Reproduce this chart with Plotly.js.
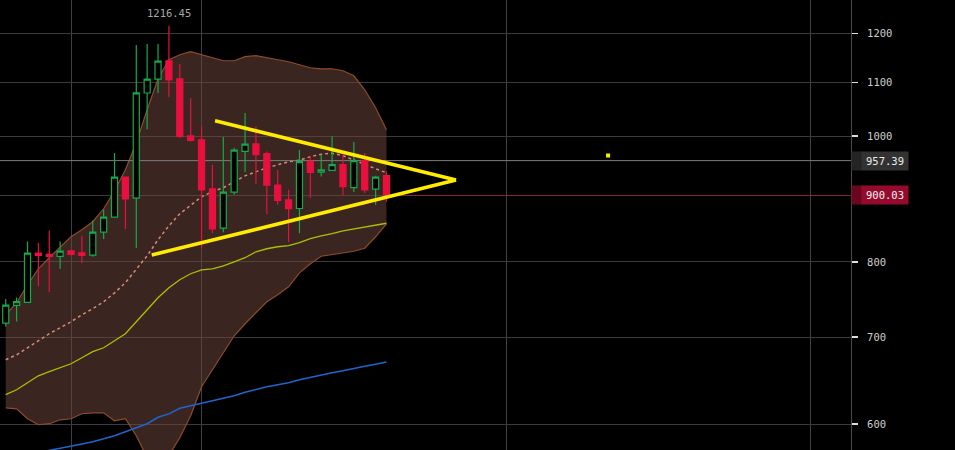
<!DOCTYPE html>
<html><head><meta charset="utf-8">
<script src="https://cdn.plot.ly/plotly-3.0.1.min.js"></script>
<style>html,body{margin:0;padding:0;background:#000;overflow:hidden}#chart{width:955px;height:450px}</style>
</head><body><div id="chart"></div>
<script>
// ---- candle data (index 0..35) ----
const openP  = [717.7,740.5,744.4,812.6,810.6,807.8,815.9,813.0,809.7,843.3,866.1,929.9,895.8,1079.4,1106.4,1143.0,1107.0,1000.5,993.5,910.7,849.4,905.4,973.1,986.4,969.2,916.8,893.1,879.4,956.1,938.1,940.8,950.5,912.6,957.3,910.2,932.1];
const highP  = [749.0,751.0,829.5,827.1,845.8,829.5,816.9,837.9,861.0,877.4,970.4,930.4,1175.5,1177.6,1177.6,1216.45,1136.4,1069.6,1018.4,950.5,998.2,979.5,1041.9,1017.1,973.1,941.5,909.1,976.0,964.6,967.5,999.3,967.5,989.4,970.4,932.1,939.4];
const lowP   = [713.4,719.7,744.0,765.8,758.2,789.8,810.2,798.3,807.3,833.0,865.8,847.9,819.8,1012.3,1079.4,1071.7,996.5,990.5,819.8,841.8,843.3,901.1,938.1,918.4,870.8,885.3,828.6,841.8,895.8,930.6,940.3,900.0,905.4,903.8,885.3,890.4];
const closeP = [741.0,745.4,812.6,809.2,807.8,815.4,810.6,809.2,843.3,866.1,929.9,894.7,1079.7,1106.4,1142.4,1105.0,999.3,992.3,909.1,848.3,905.4,975.5,985.9,967.5,916.8,892.0,879.0,955.6,937.5,942.0,950.5,914.2,957.3,909.1,929.9,900.03];

// ---- indicators ----
const bandUpper = [728.3,744.0,768.2,790.2,805.9,821.7,836.4,846.8,859.0,879.0,907.5,942.0,988.3,1047.8,1107.0,1145.0,1155.3,1161.4,1155.3,1149.1,1143.0,1143.0,1151.2,1153.2,1149.1,1145.0,1141.0,1134.9,1128.8,1126.8,1126.8,1122.8,1112.9,1085.6,1051.5,1011.2];
const bandLower = [617.5,616.4,605.6,599.2,600.3,604.5,605.6,611.0,612.0,612.0,603.4,605.6,587.6,565.1,550.3,568.1,585.5,608.8,641.0,660.6,680.9,701.7,716.8,730.9,745.3,754.6,765.4,784.6,797.3,808.0,810.1,813.0,815.2,819.5,836.4,855.9];
const bandMid   = [672.4,678.4,686.9,695.5,704.2,711.7,719.3,728.3,736.1,745.3,757.2,770.9,788.8,808.7,832.0,852.9,871.2,885.2,897.9,905.9,912.4,922.1,931.9,938.6,945.3,950.4,955.4,958.0,964.0,968.3,970.0,965.7,958.8,951.2,943.6,936.9];
const ma50      = [632.0,637.6,645.6,653.6,658.3,663.0,667.7,674.8,682.1,686.9,695.5,704.2,719.3,734.8,750.7,764.0,775.0,783.3,788.8,790.2,794.4,800.1,805.9,814.4,818.8,821.7,823.2,827.6,833.5,837.9,840.9,845.3,848.3,851.4,854.4,856.7];
const ma200     = [564.1,566.1,568.1,570.6,572.7,574.7,576.8,579.0,581.4,584.1,587.6,591.8,596.0,600.3,607.2,610.9,617.0,619.8,622.7,625.3,627.5,630.9,634.8,638.2,641.0,643.3,645.6,649.0,651.9,654.8,657.1,659.5,662.4,664.8,667.2,669.8];

// ---- drawings ----
const triUpperX = [19.24, 41.39], triUpperY = [1027.5, 924.9];
const triLowerX = [13.42, 41.39], triLowerY = [809.7, 924.9];
const dotX = [55.37], dotY = [966.1];

// ---- labels / levels ----
const yTicks = [600,700,800,900,1000,1100,1200];
const yTickText = ['600','700','800','','1000','1100','1200'];
const xGrid = [6,18,46,74];
const lastPrice = 900.03;
const refPrice = 957.39;
const highLabel = '1216.45';
const highIdx = 15;

const idx = openP.map((_, i) => i);
const xEnd = 80, xStart = -2;

const GREEN = '#17a94b', RED = '#e8103e';
const MONO = '"DejaVu Sans Mono", "Liberation Mono", monospace';
const YRANGE = [2.75812, 3.10484];

const traces = [
  // main y axis (drawn first, below)
  {type:'scatter', mode:'lines', x:idx, y:bandLower, line:{color:'#8e4c2a', width:1.2}, hoverinfo:'skip'},
  {type:'scatter', mode:'lines', x:idx, y:bandUpper, line:{color:'#8e4c2a', width:1.2}, fill:'tonexty', fillcolor:'rgba(112,70,62,0.52)', hoverinfo:'skip'},
  {type:'scatter', mode:'lines', x:idx, y:bandMid, line:{color:'#d68a74', width:1.5, dash:'3px,3px'}, hoverinfo:'skip'},
  {type:'scatter', mode:'lines', x:idx, y:ma50, line:{color:'#a9c200', width:1.3}, hoverinfo:'skip'},
  {type:'scatter', mode:'lines', x:idx, y:ma200, line:{color:'#1f66cc', width:1.5}, hoverinfo:'skip'},
  {type:'scatter', mode:'lines', x:[xStart, xEnd], y:[refPrice, refPrice], line:{color:'#7c7c7c', width:1}, hoverinfo:'skip'},
  // overlay y axis (drawn on top)
  {type:'candlestick', x:idx, open:openP, high:highP, low:lowP, close:closeP, yaxis:'y2',
    increasing:{line:{color:GREEN, width:1.2}, fillcolor:'#000000'},
    decreasing:{line:{color:RED, width:1.2}, fillcolor:RED},
    whiskerwidth:0, hoverinfo:'skip'},
  {type:'scatter', mode:'lines', x:[idx[idx.length-1], xEnd], y:[lastPrice, lastPrice], yaxis:'y2', line:{color:'#c8103c', width:1, dash:'2px,2px'}, hoverinfo:'skip'},
  {type:'scatter', mode:'lines', x:triUpperX, y:triUpperY, yaxis:'y2', line:{color:'#ffec00', width:3.5}, hoverinfo:'skip'},
  {type:'scatter', mode:'lines', x:triLowerX, y:triLowerY, yaxis:'y2', line:{color:'#ffec00', width:3.5}, hoverinfo:'skip'},
  {type:'scatter', mode:'markers', x:dotX, y:dotY, yaxis:'y2', marker:{symbol:'square', size:4, color:'#ffec00'}, hoverinfo:'skip'}
];

const layout = {
  width:955, height:450,
  margin:{l:0, r:104, t:0, b:0},
  paper_bgcolor:'#000', plot_bgcolor:'#000',
  showlegend:false,
  boxgap:0.2,
  xaxis:{range:[-0.527, 77.70], tickvals:xGrid, showticklabels:false, ticks:'', showgrid:true,
         gridcolor:'#404040', gridwidth:1, zeroline:false, showline:false, rangeslider:{visible:false}, fixedrange:true},
  yaxis:{type:'log', side:'right', range:YRANGE, tickvals:yTicks, ticktext:yTickText,
         showgrid:true, gridcolor:'#3c3c3c', gridwidth:1, zeroline:false,
         showline:true, linecolor:'#4a4a4a', linewidth:1,
         ticks:'outside', ticklen:6, tickwidth:1.5, tickcolor:'#dddddd', ticklabelstandoff:7,
         tickfont:{family:MONO, size:10.5, color:'#cfcfcf'}, fixedrange:true},
  yaxis2:{type:'log', overlaying:'y', side:'right', range:YRANGE, showgrid:false, showticklabels:false,
          ticks:'', zeroline:false, showline:false, fixedrange:true},
  annotations:[
    {x:highIdx, y:Math.log10(parseFloat(highLabel)), xref:'x', yref:'y', text:highLabel, showarrow:false,
     yanchor:'bottom', yshift:5, font:{family:MONO, size:10.5, color:'#a9a9a9'}},
    {x:1, xref:'paper', y:Math.log10(refPrice), yref:'y', text:'', showarrow:false, xanchor:'left',
     width:10, height:18, borderpad:0, bgcolor:'#242424'},
    {x:1, xref:'paper', y:Math.log10(refPrice), yref:'y', text:refPrice.toFixed(2), showarrow:false, xanchor:'left', xshift:10,
     width:46, height:18, borderpad:0, bgcolor:'#323232', font:{family:MONO, size:10.5, color:'#ececec'}},
    {x:1, xref:'paper', y:Math.log10(lastPrice), yref:'y', text:'', showarrow:false, xanchor:'left',
     width:10, height:18, borderpad:0, bgcolor:'#6c0620'},
    {x:1, xref:'paper', y:Math.log10(lastPrice), yref:'y', text:lastPrice.toFixed(2), showarrow:false, xanchor:'left', xshift:10,
     width:46, height:18, borderpad:0, bgcolor:'#960a2e', font:{family:MONO, size:10.5, color:'#f2f2f2'}}
  ]
};

Plotly.newPlot('chart', traces, layout, {staticPlot:true, displayModeBar:false});
</script></body></html>
